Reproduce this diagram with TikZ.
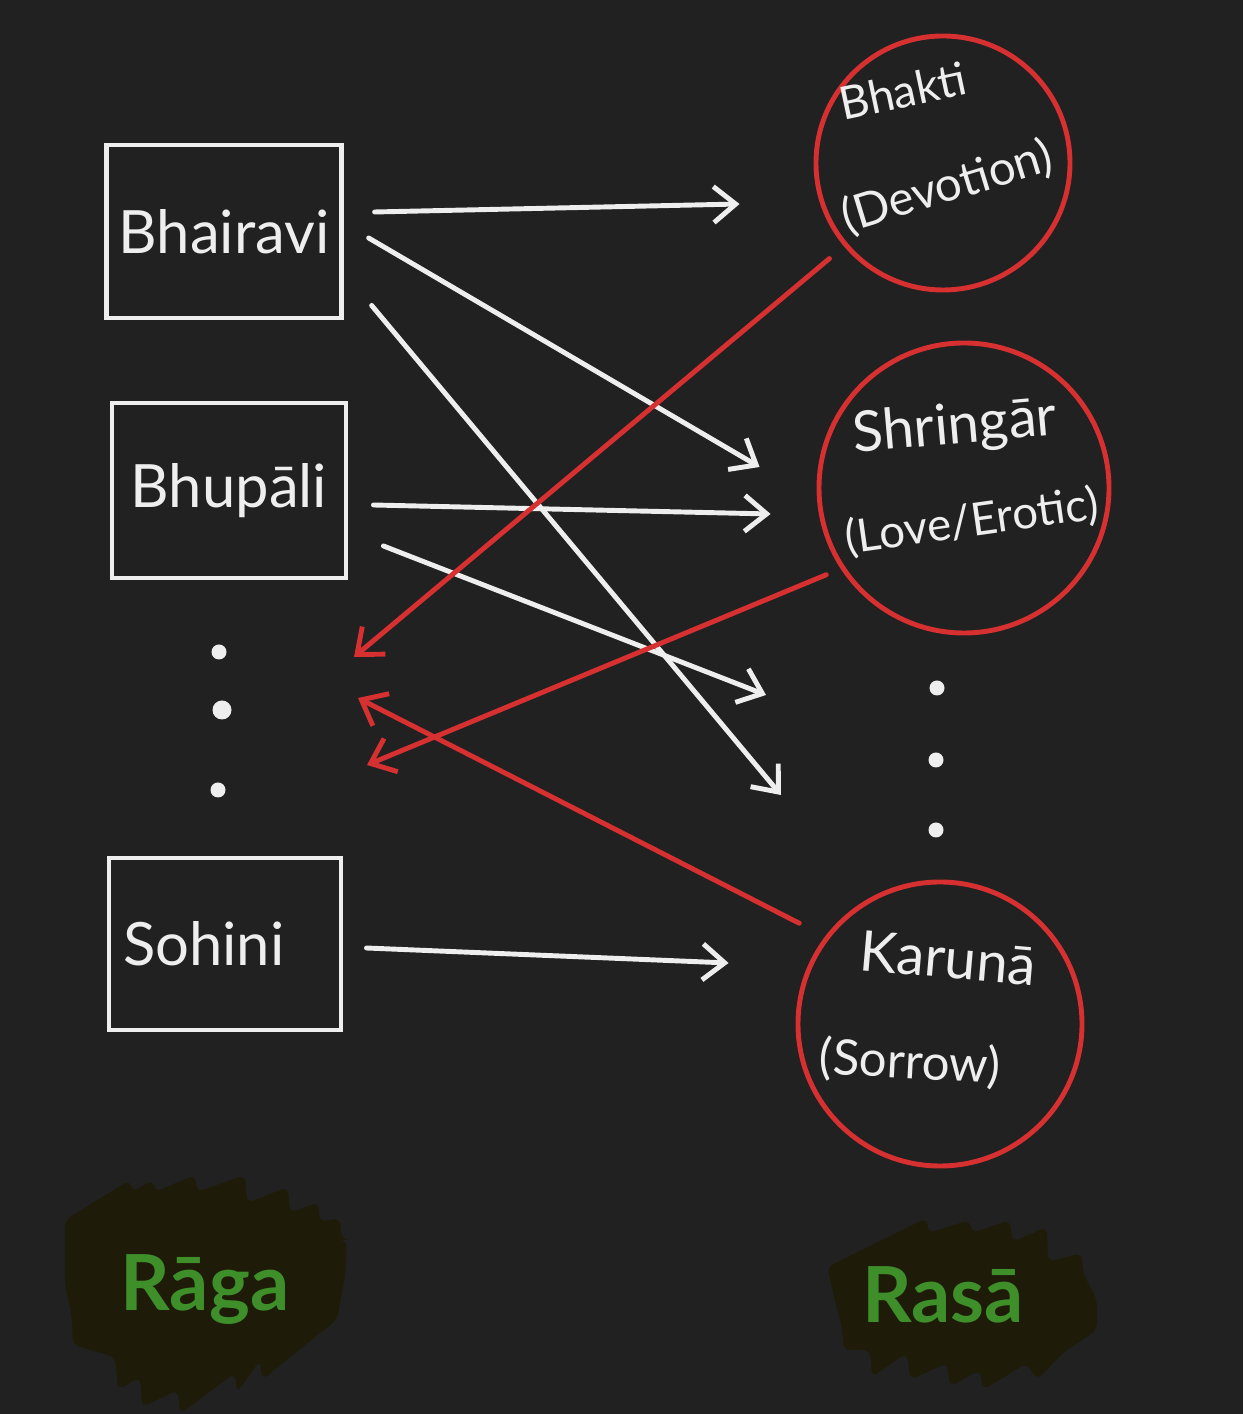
\documentclass[tikz,border=0pt]{standalone}
\usepackage{fontspec}
\setmainfont{Lato}
\usetikzlibrary{positioning,arrows.meta}
\definecolor{boarddark}{HTML}{212121}
\definecolor{chalk}{HTML}{EEEEEE}
\definecolor{rasared}{HTML}{D63031}
\definecolor{ragagreen}{HTML}{3E8E2A}
\definecolor{smudge}{HTML}{1E1C08}

\begin{document}
\begin{tikzpicture}[
      >={Straight Barb[length=2.2mm,width=3.6mm]},
      raga/.style={rectangle, draw=chalk, line width=1.4pt, text=chalk, font=\fontsize{17}{20}\selectfont},
      rasa/.style={circle, draw=rasared, line width=1.4pt, inner sep=0pt},
      rasatext/.style={text=chalk, inner sep=0pt},
      gap/.style={circle, fill=chalk, inner sep=0pt, minimum size=0.15cm},
      chalkline/.style={->, draw=chalk, line width=1.4pt, line cap=round},
      redline/.style={->, draw=rasared, line width=1.4pt, line cap=round},
      heading/.style={text=ragagreen, font=\fontsize{22}{26}\selectfont\bfseries}
      ]
      \fill[boarddark] (0,0) rectangle (12.43,14.14);
      % smudges behind the headings
      \fill[smudge, rounded corners=2pt] (0.65,1.94) -- (1.30,2.34) -- (1.32,2.22) -- (1.53,2.34) -- (1.55,2.22) -- (1.95,2.39) -- (1.97,2.22) -- (2.45,2.39) -- (2.47,2.11) -- (2.88,2.27) -- (2.90,2.01) -- (3.18,2.12) -- (3.20,1.92) -- (3.40,1.96) -- (3.42,1.74) -- (3.47,1.74) -- (3.45,1.37) -- (3.37,0.94) -- (3.20,0.81) -- (2.62,0.34) -- (2.60,0.54) -- (2.37,0.21) -- (2.35,0.41) -- (1.80,0.00) -- (1.78,0.24) -- (1.42,0.07) -- (1.40,0.37) -- (1.18,0.24) -- (1.15,0.57) -- (0.73,0.69) -- (0.72,0.97) -- (0.65,1.29) -- cycle;
      \fill[smudge, rounded corners=2pt] (8.27,1.47) -- (9.27,1.96) -- (9.28,1.81) -- (9.70,1.94) -- (9.72,1.81) -- (10.10,1.94) -- (10.12,1.72) -- (10.47,1.87) -- (10.48,1.52) -- (10.82,1.61) -- (10.83,1.41) -- (10.97,1.14) -- (10.97,0.84) -- (10.63,0.61) -- (10.37,0.34) -- (10.27,0.51) -- (9.83,0.24) -- (9.80,0.44) -- (9.50,0.27) -- (9.47,0.51) -- (9.10,0.34) -- (9.07,0.61) -- (8.72,0.37) -- (8.70,0.64) -- (8.43,0.64) -- (8.43,0.81) -- (8.35,1.14) -- cycle;

      % ragas
      \node[raga, minimum width=2.32cm, minimum height=1.73cm] (BHAIRAVI) at (2.24,11.825) {Bhairavi};
      \node[raga, minimum width=2.34cm, minimum height=1.75cm] (BHUPALI) at (2.29,9.235) {Bhupāli};
      \node[raga, text width=2.04cm, inner sep=0.14cm, minimum height=1.72cm, align=left] (SOHINI) at (2.25,4.70) {Sohini};
      \node[gap] (DOTL1) at (2.19,7.62) {};
      \node[gap, minimum height=0.19cm] (DOTL2) at (2.22,7.04) {};
      \node[gap] (DOTL3) at (2.18,6.24) {};

      % rasas
      \node[rasa, minimum size=2.54cm] (BHAKTI) at (9.43,12.51) {};
      \node[rasa, minimum size=2.90cm] (SHRINGAR) at (9.64,9.26) {};
      \node[rasa, minimum size=2.84cm] (KARUNA) at (9.40,3.90) {};
      \node[rasatext, rotate=12, font=\fontsize{13}{15}\selectfont] (BHAKTIT) at (9.03,13.23) {Bhakti};
      \node[rasatext, rotate=17, font=\fontsize{13.5}{16}\selectfont] (DEVOTION) at (9.47,12.27) {(Devotion)};
      \node[rasatext, rotate=5, font=\fontsize{16}{18}\selectfont] (SHRINGART) at (9.55,9.86) {Shringār};
      \node[rasatext, rotate=8, font=\fontsize{13}{15}\selectfont] (LOVE) at (9.72,8.92) {(Love/Erotic)};
      \node[rasatext, rotate=-5, font=\fontsize{16}{18}\selectfont] (KARUNAT) at (9.48,4.56) {Karunā};
      \node[rasatext, rotate=-3, font=\fontsize{14}{16}\selectfont] (SORROW) at (9.10,3.51) {(Sorrow)};
      \node[gap] (DOTR1) at (9.37,7.26) {};
      \node[gap] (DOTR2) at (9.36,6.54) {};
      \node[gap] (DOTR3) at (9.36,5.84) {};

      % headings
      \node[heading] (RAGA) at (2.05,1.24) {Rāga};
      \node[heading] (RASA) at (9.43,1.19) {Rasā};

      % raga to rasa
      \draw[chalkline] ([shift={(0.31,0.195)}]BHAIRAVI.east) -- ([shift={(-0.74,-0.41)}]BHAKTI.west);
      \draw[chalkline] ([shift={(0.25,-0.065)}]BHAIRAVI.east) -- ([shift={(-0.57,0.21)}]SHRINGAR.west);
      \draw[chalkline] ([shift={(0.28,0.15)}]BHAIRAVI.south east) -- ([shift={(-1.55,-0.35)}]DOTR2.center);
      \draw[chalkline] ([shift={(0.25,-0.145)}]BHUPALI.east) -- ([shift={(-0.46,-0.26)}]SHRINGAR.west);
      \draw[chalkline] ([shift={(0.35,-0.555)}]BHUPALI.east) -- ([shift={(-1.71,-0.07)}]DOTR1.center);
      \draw[chalkline] ([shift={(0.23,-0.04)}]SOHINI.east) -- ([shift={(-0.67,0.61)}]KARUNA.west);

      % rasa back to raga
      \draw[redline] ([shift={(-0.22,-0.04)}]BHAKTI.south west) -- ([shift={(1.35,-0.05)}]DOTL1.center);
      \draw[redline] ([shift={(-0.335,0.175)}]SHRINGAR.south west) -- ([shift={(1.49,0.25)}]DOTL3.center);
      \draw[redline] ([shift={(-0.386,-0.014)}]KARUNA.north west) -- ([shift={(1.36,0.12)}]DOTL2.center);
    \end{tikzpicture}
\end{document}
